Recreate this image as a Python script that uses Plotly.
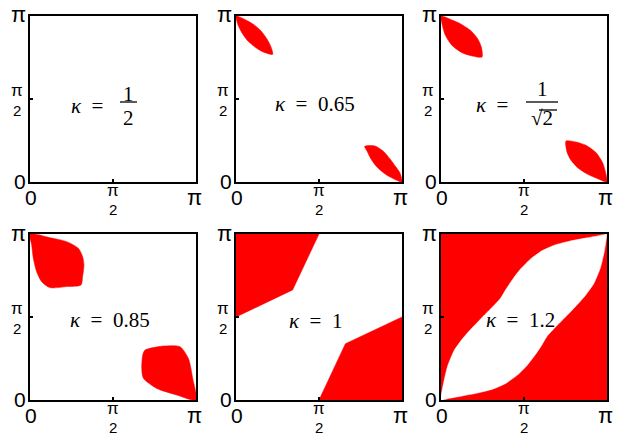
import plotly.graph_objects as go

# ---------------- data (all coordinates in units of pi) ----------------
kappa_labels = ["1/2", "0.65", "1/sqrt2", "0.85", "1", "1.2"]

# kappa = 0.65 : two thin leaves
k065_tl_x = [0, 0.048, 0.102, 0.151, 0.187, 0.211, 0.221, 0.163, 0.114, 0.072, 0.036, 0.012, 0]
k065_tl_y = [1, 0.982, 0.952, 0.910, 0.861, 0.813, 0.769, 0.783, 0.813, 0.849, 0.898, 0.946, 1]
k065_br_x = [0.775, 0.837, 0.886, 0.928, 0.964, 0.988, 1, 0.952, 0.898, 0.849, 0.813, 0.789, 0.775]
k065_br_y = [0.215, 0.217, 0.187, 0.139, 0.090, 0.054, 0, 0.018, 0.048, 0.090, 0.139, 0.187, 0.215]

# kappa = 1/sqrt(2)
k071_tl_x = [0, 0.056, 0.116, 0.177, 0.221, 0.243, 0.247, 0.187, 0.127, 0.066, 0.026, 0.008, 0]
k071_tl_y = [1, 0.980, 0.954, 0.914, 0.863, 0.813, 0.753, 0.759, 0.779, 0.823, 0.884, 0.944, 1]
k071_br_x = [0.753, 0.813, 0.873, 0.934, 0.974, 0.992, 1, 0.944, 0.884, 0.823, 0.779, 0.757, 0.753]
k071_br_y = [0.247, 0.241, 0.221, 0.177, 0.116, 0.056, 0, 0.020, 0.046, 0.086, 0.137, 0.187, 0.247]

# kappa = 0.85
k085_tl_x = [0, 0.120, 0.221, 0.291, 0.317, 0.325, 0.317, 0.307, 0.221, 0.120, 0.070, 0.040, 0.020, 0.010, 0]
k085_tl_y = [1, 0.978, 0.954, 0.914, 0.863, 0.813, 0.743, 0.693, 0.683, 0.677, 0.713, 0.773, 0.853, 0.934, 1]
k085_br_x = [0.693, 0.803, 0.904, 0.954, 0.980, 1, 0.884, 0.763, 0.683, 0.673, 0.679, 0.693]
k085_br_y = [0.301, 0.325, 0.321, 0.251, 0.131, 0, 0.030, 0.070, 0.131, 0.191, 0.271, 0.301]

# kappa = 1 : piecewise linear regions
k100_tl_x = [0, 0, 0.341, 0.5, 0]
k100_tl_y = [1, 0.5, 0.663, 1, 1]
k100_br_x = [0.5, 0.659, 1, 1, 0.5]
k100_br_y = [0, 0.339, 0.5, 0, 0]

# kappa = 1.2 : red square with a white lens (boundaries below)
k120_sq_x = [0, 1, 1, 0, 0]
k120_sq_y = [0, 0, 1, 1, 0]
k120_up_x = [0, 0.015, 0.04, 0.08, 0.13, 0.185, 0.25, 0.31, 0.36, 0.39, 0.43, 0.48, 0.54,
             0.61, 0.69, 0.78, 0.88, 0.95, 1]
k120_up_y = [0, 0.10, 0.205, 0.300, 0.370, 0.432, 0.500, 0.560, 0.615, 0.665, 0.725, 0.790,
             0.850, 0.900, 0.935, 0.958, 0.977, 0.990, 1]
k120_lo_x = [0, 0.05, 0.12, 0.22, 0.31, 0.39, 0.46, 0.52, 0.57, 0.61, 0.64, 0.69, 0.75,
             0.815, 0.87, 0.92, 0.96, 0.985, 1]
k120_lo_y = [0, 0.010, 0.023, 0.042, 0.065, 0.100, 0.150, 0.210, 0.275, 0.335, 0.385, 0.440,
             0.500, 0.568, 0.630, 0.700, 0.795, 0.900, 1]

RED = "#ff0000"
SANS = "Liberation Sans, Arial, sans-serif"
SERIF = "Liberation Serif, Times New Roman, serif"

W, H = 618, 437
col_px = [(30, 196), (236, 402), (441, 607)]
row_px = [(16, 182), (234, 400)]

fig = go.Figure()


def ax_names(i):
    return ("x" if i == 1 else f"x{i}"), ("y" if i == 1 else f"y{i}")


def poly(i, xs, ys, smooth=0.7, color=RED):
    xa, ya = ax_names(i)
    line = dict(width=0.5, color=color)
    if smooth:
        line.update(shape="spline", smoothing=smooth)
    fig.add_trace(go.Scatter(x=xs, y=ys, xaxis=xa, yaxis=ya, mode="lines", fill="toself",
                             fillcolor=color, line=line, hoverinfo="skip", showlegend=False))


# panel 1: empty
fig.add_trace(go.Scatter(x=[], y=[], xaxis="x", yaxis="y", showlegend=False))
poly(2, k065_tl_x, k065_tl_y)
poly(2, k065_br_x, k065_br_y)
poly(3, k071_tl_x, k071_tl_y)
poly(3, k071_br_x, k071_br_y)
poly(4, k085_tl_x, k085_tl_y)
poly(4, k085_br_x, k085_br_y)
poly(5, k100_tl_x, k100_tl_y, smooth=0)
poly(5, k100_br_x, k100_br_y, smooth=0)
poly(6, k120_sq_x, k120_sq_y, smooth=0)
poly(6, k120_up_x + k120_lo_x[::-1], k120_up_y + k120_lo_y[::-1], smooth=0.5, color="white")

layout = dict(width=W, height=H, margin=dict(l=0, r=0, t=0, b=0),
              paper_bgcolor="white", plot_bgcolor="white", showlegend=False)

annotations = []
shapes = []


def ann(i, x, y, text, dx=0, dy=0, size=20, family=SANS, xanchor="center"):
    xa, ya = ax_names(i)
    annotations.append(dict(xref=xa, yref=ya, x=x, y=y, text=text, showarrow=False,
                            xshift=dx, yshift=-dy, xanchor=xanchor, yanchor="middle",
                            font=dict(size=size, family=family, color="black")))


def bar(i, x, y, px0, px1, dy):
    xa, ya = ax_names(i)
    shapes.append(dict(type="line", xref=xa, yref=ya, xsizemode="pixel", ysizemode="pixel",
                       xanchor=x, yanchor=y, x0=px0, x1=px1, y0=-dy, y1=-dy,
                       line=dict(color="black", width=1.3)))


for i in range(1, 7):
    r = (i - 1) // 3
    c = (i - 1) % 3
    x0, x1 = col_px[c]
    y0, y1 = row_px[r]
    xa, ya = ax_names(i)
    common = dict(range=[0, 1], showgrid=False, zeroline=False, showline=True, mirror=True,
                  linecolor="black", linewidth=2, ticks="inside", ticklen=3, tickwidth=2,
                  tickcolor="black", tickvals=[0.5], showticklabels=False, fixedrange=True)
    layout["xaxis" if i == 1 else f"xaxis{i}"] = dict(domain=[x0 / W, x1 / W], anchor=ya, **common)
    layout["yaxis" if i == 1 else f"yaxis{i}"] = dict(domain=[1 - y1 / H, 1 - y0 / H], anchor=xa, **common)

    # tick labels
    ann(i, 0, 1, "π", dx=-12, dy=-1, size=22)
    ann(i, 0, 0, "0", dx=-10, dy=-1, size=21)
    ann(i, 0, 0.5, "π", dx=-13, dy=-9, size=17)
    bar(i, 0, 0.5, -19, -7, 1)
    ann(i, 0, 0.5, "2", dx=-13, dy=11, size=15)
    ann(i, 0, 0, "0", dx=1, dy=15, size=21)
    ann(i, 0.5, 0, "π", dx=0, dy=8, size=17)
    bar(i, 0.5, 0, -6, 6, 17)
    ann(i, 0.5, 0, "2", dx=0, dy=27, size=15)
    ann(i, 1, 0, "π", dx=-2, dy=15, size=22)

SP = "\u2002"
KS = 21
# panel 1: kappa = 1/2
ann(1, 0.5, 0.5, f"<i>κ</i>{SP}={SP}", dx=3, dy=7, size=KS, family=SERIF, xanchor="right")
ann(1, 0.5, 0.5, "1", dx=15.5, dy=-5, size=KS, family=SERIF)
bar(1, 0.5, 0.5, 7, 24, 3)
ann(1, 0.5, 0.5, "2", dx=15.5, dy=19, size=KS, family=SERIF)
# panel 2
ann(2, 0.5, 0.5, f"<i>κ</i>{SP}={SP}0.65", dx=-4, dy=5, size=KS, family=SERIF)
# panel 3: kappa = 1/sqrt(2)
ann(3, 0.5, 0.5, f"<i>κ</i>{SP}={SP}", dx=-3, dy=6, size=KS, family=SERIF, xanchor="right")
ann(3, 0.5, 0.5, "1", dx=18, dy=-10, size=KS, family=SERIF)
bar(3, 0.5, 0.5, 2, 34, 3)
ann(3, 0.5, 0.5, "√2", dx=18, dy=19, size=KS, family=SERIF)
bar(3, 0.5, 0.5, 15, 33, 11)
# panels 4-6
ann(4, 0.5, 0.5, f"<i>κ</i>{SP}={SP}0.85", dx=-3, dy=3, size=KS, family=SERIF)
ann(5, 0.5, 0.5, f"<i>κ</i>{SP}={SP}1", dx=-4, dy=4, size=KS, family=SERIF)
ann(6, 0.5, 0.5, f"<i>κ</i>{SP}={SP}1.2", dx=-4, dy=3, size=KS, family=SERIF)

layout["annotations"] = annotations
layout["shapes"] = shapes
fig.update_layout(**layout)
fig.write_html("out.html", config={"displayModeBar": False},
               post_script="document.body.style.margin='0';")
